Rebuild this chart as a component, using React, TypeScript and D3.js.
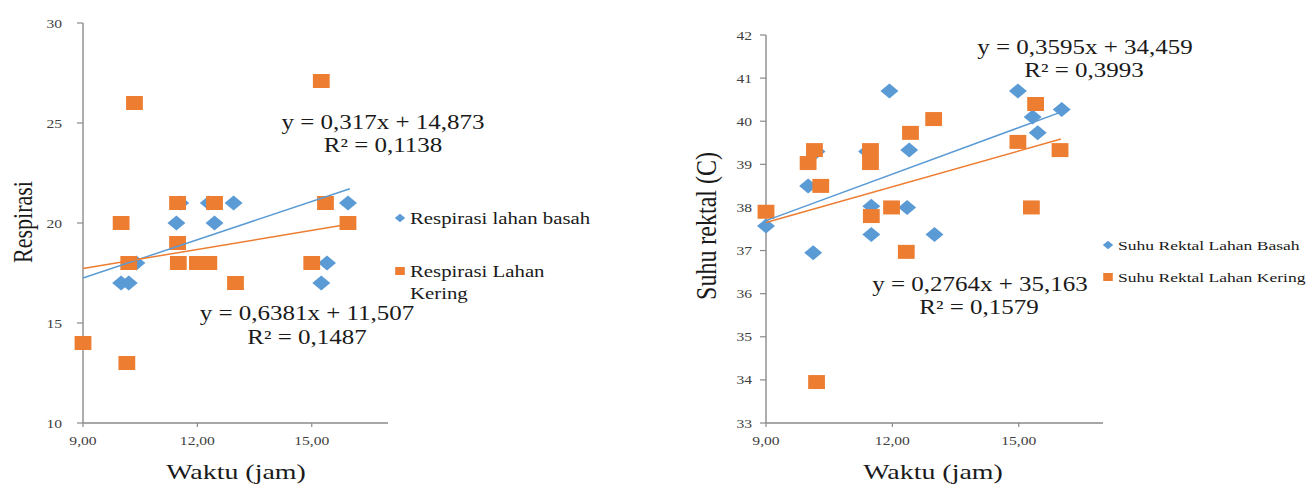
import * as d3 from "d3"

// shared x axis (jam)
const X_DOMAIN = [9, 17]
const X_TICKS = [9, 12, 15]
const TREND_X = [9, 16]

// Respirasi
const RESP_Y_DOMAIN = [10, 30]
const RESP_Y_TICKS = [10, 15, 20, 25, 30]
const RESP_BASAH_X = [10.0, 10.2, 10.4, 11.45, 11.55, 12.3, 12.45, 12.95, 15.25, 15.4, 15.95]
const RESP_BASAH_Y = [17, 17, 18, 20, 21, 21, 20, 21, 17, 18, 21]
const RESP_KERING_X = [9.0, 10.0, 10.15, 10.2, 10.35, 11.48, 11.48, 11.5, 12.0, 12.3, 12.45, 13.0, 15.0, 15.25, 15.36, 15.95]
const RESP_KERING_Y = [14, 20, 13, 18, 26, 21, 19, 18, 18, 18, 21, 17, 18, 27.1, 21, 20]
const RESP_BASAH_FIT = [0.6381, 11.507]
const RESP_KERING_FIT = [0.317, 14.873]
const RESP_EQ = ["y = 0,317x + 14,873", "R² = 0,1138", "y = 0,6381x + 11,507", "R² = 0,1487"]

// Suhu rektal
const SUHU_Y_DOMAIN = [33, 42]
const SUHU_Y_TICKS = [33, 34, 35, 36, 37, 38, 39, 40, 41, 42]
const SUHU_BASAH_X = [9.0, 10.0, 10.12, 10.2, 11.4, 11.5, 11.5, 11.93, 12.35, 12.4, 13.0, 14.98, 15.33, 15.45, 16.02]
const SUHU_BASAH_Y = [37.57, 38.5, 36.95, 39.3, 39.3, 38.03, 37.37, 40.7, 38.0, 39.33, 37.37, 40.7, 40.1, 39.73, 40.27]
const SUHU_KERING_X = [9.0, 10.0, 10.15, 10.2, 10.3, 11.48, 11.48, 11.5, 11.98, 12.33, 12.43, 12.98, 14.98, 15.3, 15.4, 15.98]
const SUHU_KERING_Y = [37.9, 39.03, 39.33, 33.95, 38.5, 39.33, 39.03, 37.8, 38.0, 36.97, 39.73, 40.05, 39.52, 38.0, 40.4, 39.33]
const SUHU_BASAH_FIT = [0.3595, 34.459]
const SUHU_KERING_FIT = [0.2764, 35.163]
const SUHU_EQ = ["y = 0,3595x + 34,459", "R² = 0,3993", "y = 0,2764x + 35,163", "R² = 0,1579"]

const BLUE = "#5b9bd5"
const ORANGE = "#ed7d31"
const AXIS = "#8a8a8a"
const FONT = "Liberation Serif"

const fmtX = (v: number) => d3.format(".2f")(v).replace(".", ",")

type TProps = { x: number; y: number; size: number; sx?: number; anchor?: string; fill?: string; rot?: boolean; children: any }

// excel export looks stretched sideways, so text is scaled on x
function T({ x, y, size, sx = 1.25, anchor = "start", fill = "#1a1a1a", rot, children }: TProps) {
  const tf = rot ? `translate(${x},${y}) rotate(-90) scale(1,${sx})` : `translate(${x},${y}) scale(${sx},1)`
  return (
    <text transform={tf} fontSize={size} fontFamily={FONT} textAnchor={anchor} dominantBaseline="central" fill={fill}>
      {children}
    </text>
  )
}

type Panel = {
  xRange: [number, number]
  yRange: [number, number]
  yDomain: number[]
  yTicks: number[]
  yLabelGap: number
  basah: [number[], number[]]
  kering: [number[], number[]]
  basahFit: number[]
  keringFit: number[]
  eq: string[]
  eqPos: [number, number][]
  eqSize: number
  yTitle: string
  yTitlePos: [number, number]
  yTitleSize: number
  xTitlePos: [number, number]
  legend: string[][]
  legendPos: [number, number][]
  legendSize: number
  legendSx: number
}

const diamond = d3.symbol(d3.symbolDiamond2, 143)() || ""
const square = d3.symbol(d3.symbolSquare, 196)() || ""
const diamondSm = d3.symbol(d3.symbolDiamond2, 48)() || ""
const squareSm = d3.symbol(d3.symbolSquare, 64)() || ""

function Scatter({ p }: { p: Panel }) {
  const x = d3.scaleLinear().domain(X_DOMAIN).range(p.xRange)
  const y = d3.scaleLinear().domain(p.yDomain).range(p.yRange)
  const fit = (c: number[]) =>
    d3.line<number>().x(v => x(v)).y(v => y(c[0] * v + c[1]))(TREND_X) || ""
  const [x0, x1] = p.xRange
  const [yb, yt] = p.yRange

  return (
    <g>
      <line x1={x0} x2={x1} y1={yb} y2={yb} stroke={AXIS} strokeWidth={1.4} />
      <line x1={x0} x2={x0} y1={yb} y2={yt} stroke={AXIS} strokeWidth={1.4} />
      {p.yTicks.map(t => (
        <g key={"y" + t}>
          <line x1={x0 - 6} x2={x0} y1={y(t)} y2={y(t)} stroke={AXIS} strokeWidth={1.2} />
          <T x={x0 - p.yLabelGap} y={y(t)} size={13} sx={1.2} anchor="end" fill="#404040">{t}</T>
        </g>
      ))}
      {X_TICKS.map(t => (
        <g key={"x" + t}>
          <line x1={x(t)} x2={x(t)} y1={yb} y2={yb + 4} stroke={AXIS} strokeWidth={1.2} />
          <T x={x(t)} y={yb + 17} size={13} sx={1.2} anchor="middle" fill="#404040">{fmtX(t)}</T>
        </g>
      ))}

      {p.basah[0].map((v, i) => (
        <path key={"b" + i} d={diamond} fill={BLUE}
          transform={`translate(${x(v)},${y(p.basah[1][i])}) scale(1.2,1)`} />
      ))}
      {p.kering[0].map((v, i) => (
        <path key={"k" + i} d={square} fill={ORANGE}
          transform={`translate(${x(v)},${y(p.kering[1][i])}) scale(1.2,1)`} />
      ))}

      <path d={fit(p.basahFit)} stroke={BLUE} strokeWidth={1.5} fill="none" />
      <path d={fit(p.keringFit)} stroke={ORANGE} strokeWidth={1.5} fill="none" />

      {p.eq.map((s, i) => (
        <T key={"e" + i} x={p.eqPos[i][0]} y={p.eqPos[i][1]} size={p.eqSize} anchor="middle">{s}</T>
      ))}

      <T x={p.yTitlePos[0]} y={p.yTitlePos[1]} size={p.yTitleSize} anchor="middle" rot sx={1.2}>{p.yTitle}</T>
      <T x={p.xTitlePos[0]} y={p.xTitlePos[1]} size={22} anchor="middle" sx={1.27}>Waktu (jam)</T>

      {p.legend.map((lines, i) => (
        <g key={"l" + i}>
          <path d={i === 0 ? diamondSm : squareSm} fill={i === 0 ? BLUE : ORANGE}
            transform={`translate(${p.legendPos[i][0] - 10},${p.legendPos[i][1]}) scale(1.2,1)`} />
          {lines.map((s, j) => (
            <T key={j} x={p.legendPos[i][0]} y={p.legendPos[i][1] + j * 22} size={p.legendSize} sx={p.legendSx}>{s}</T>
          ))}
        </g>
      ))}
    </g>
  )
}

const respPanel: Panel = {
  xRange: [83, 388],
  yRange: [423, 23],
  yDomain: RESP_Y_DOMAIN,
  yTicks: RESP_Y_TICKS,
  yLabelGap: 21,
  basah: [RESP_BASAH_X, RESP_BASAH_Y],
  kering: [RESP_KERING_X, RESP_KERING_Y],
  basahFit: RESP_BASAH_FIT,
  keringFit: RESP_KERING_FIT,
  eq: RESP_EQ,
  eqPos: [[383, 122], [383, 145], [307, 313], [307, 337]],
  eqSize: 20,
  yTitle: "Respirasi",
  yTitlePos: [23, 222],
  yTitleSize: 22,
  xTitlePos: [236, 472],
  legend: [["Respirasi lahan basah"], ["Respirasi Lahan", "Kering"]],
  legendPos: [[410, 218], [410, 271]],
  legendSize: 16,
  legendSx: 1.3,
}

const suhuPanel: Panel = {
  xRange: [766, 1103],
  yRange: [423, 35],
  yDomain: SUHU_Y_DOMAIN,
  yTicks: SUHU_Y_TICKS,
  yLabelGap: 14,
  basah: [SUHU_BASAH_X, SUHU_BASAH_Y],
  kering: [SUHU_KERING_X, SUHU_KERING_Y],
  basahFit: SUHU_BASAH_FIT,
  keringFit: SUHU_KERING_FIT,
  eq: SUHU_EQ,
  eqPos: [[1085, 47], [1084, 70], [980, 284], [979, 307]],
  eqSize: 20,
  yTitle: "Suhu rektal (C)",
  yTitlePos: [706, 226],
  yTitleSize: 24,
  xTitlePos: [933, 472],
  legend: [["Suhu Rektal Lahan Basah"], ["Suhu Rektal Lahan Kering"]],
  legendPos: [[1118, 245], [1118, 277]],
  legendSize: 13.5,
  legendSx: 1.3,
}

export default function App() {
  return (
    <svg width={1308} height={484} style={{ position: "absolute", left: 0, top: 0, background: "#fff" }}>
      <Scatter p={respPanel} />
      <Scatter p={suhuPanel} />
    </svg>
  )
}
